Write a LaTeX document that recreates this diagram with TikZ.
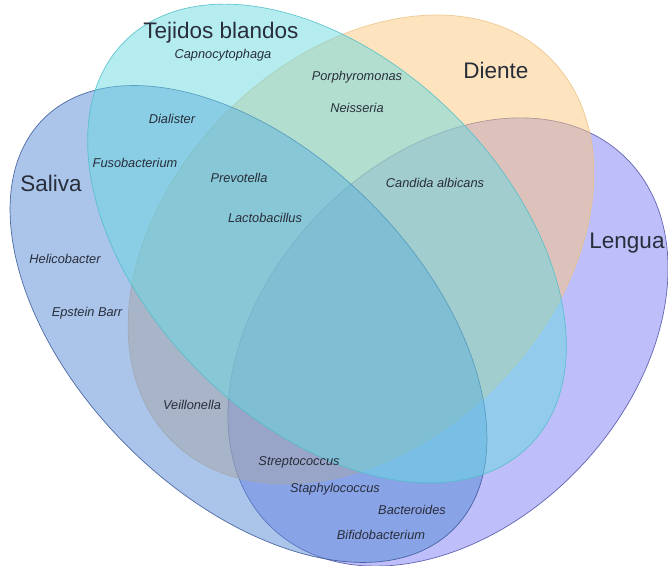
\documentclass[tikz,border=0pt]{standalone}
\usepackage{fontspec}
\setmainfont{Liberation Sans}
\definecolor{salivafill}{RGB}{85,137,213}
\definecolor{salivaline}{RGB}{55,85,150}
\definecolor{tejidofill}{RGB}{105,217,225}
\definecolor{tejidoline}{RGB}{80,190,200}
\definecolor{dientefill}{RGB}{251,199,125}
\definecolor{dienteline}{RGB}{235,195,135}
\definecolor{lenguafill}{RGB}{125,125,245}
\definecolor{lengualine}{RGB}{80,80,165}
\definecolor{textgray}{RGB}{40,45,58}

\begin{document}
\begin{tikzpicture}[x=0.25mm, y=0.25mm,
  venn/.style={line width=0.5pt, fill opacity=0.5, draw opacity=0.85},
  titulo/.style={text=textgray, inner sep=1pt, font=\fontsize{16}{18}\selectfont},
  bact/.style={text=textgray, inner sep=1pt, font=\fontsize{9.1}{11}\selectfont\itshape}]
\useasboundingbox (0,0) rectangle (668,566);

% los cuatro conjuntos
\coordinate (cL) at (448,224);
\coordinate (cD) at (361,316.5);
\coordinate (cS) at (248.5,242);
\coordinate (cT) at (327,322.5);
\draw [venn, fill=lenguafill, draw=lengualine, rotate around={46.6:(cL)}] (cL) ellipse (256 and 182);
\draw [venn, fill=dientefill, draw=dienteline, rotate around={45.6:(cD)}] (cD) ellipse (269 and 192);
\draw [venn, fill=salivafill, draw=salivaline, rotate around={-45:(cS)}] (cS) ellipse (290 and 172);
\draw [venn, fill=tejidofill, draw=tejidoline, rotate around={-45:(cT)}] (cT) ellipse (286 and 181);

% nombres
\node [titulo] (tejidos) at (221,533) {Tejidos blandos};
\node [titulo] (diente) at (496,496) {Diente};
\node [titulo] (saliva) at (51,383) {Saliva};
\node [titulo] (lengua) at (627,323) {Lengua};

% microorganismos
\node [bact] (capno) at (223,511) {Capnocytophaga};
\node [bact] (porphy) at (357,489) {Porphyromonas};
\node [bact] (neiss) at (357,458) {Neisseria};
\node [bact] (dial) at (172,447) {Dialister};
\node [bact] (fuso) at (135,403) {Fusobacterium};
\node [bact] (prevo) at (239,388) {Prevotella};
\node [bact] (lacto) at (265,348) {Lactobacillus};
\node [bact] (candida) at (435,383) {Candida albicans};
\node [bact] (helico) at (65,307) {Helicobacter};
\node [bact] (epstein) at (87,253) {Epstein Barr};
\node [bact] (veill) at (192,161) {Veillonella};
\node [bact] (strepto) at (299,104) {Streptococcus};
\node [bact] (staphy) at (335,77) {Staphylococcus};
\node [bact] (bactero) at (412,56) {Bacteroides};
\node [bact] (bifido) at (381,31) {Bifidobacterium};
\end{tikzpicture}
\end{document}
